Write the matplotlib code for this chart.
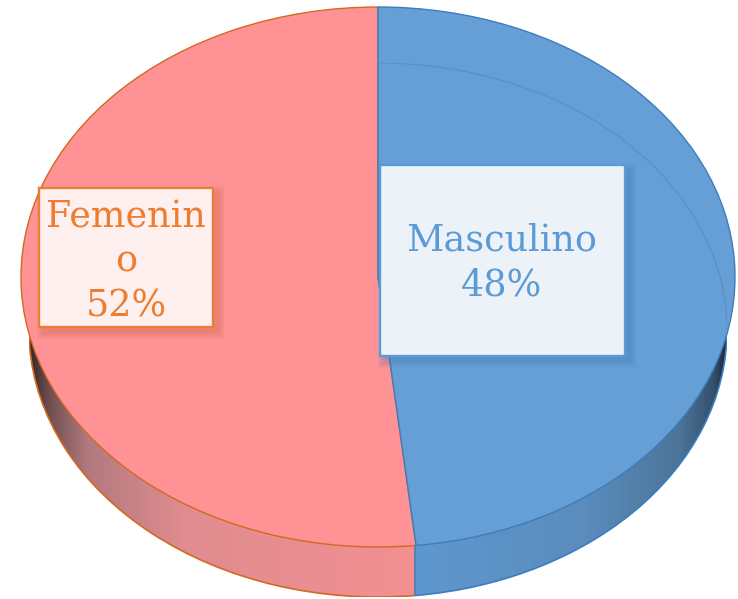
import numpy as np
import matplotlib
matplotlib.use("Agg")
import matplotlib.pyplot as plt
from matplotlib.colors import LinearSegmentedColormap
from matplotlib.patches import Rectangle, Arc, Circle

categories = ["Masculino", "Femenino"]
values = [48.3, 51.7]
label_text = ["Masculino\n48%", "Femenin\no\n52%"]

W, H = 738, 599
top_fill = ["#669FD6", "#FF9295"]
top_edge = ["#3B7DBE", "#D2691F"]
text_col = ["#5B9BD5", "#ED7D31"]
box_fill = ["#EDF2F9", "#FDF0EF"]
shadow_col = ["#3F78B0", "#C8643C"]
box_px = [(380, 165, 625, 356), (39, 188, 213, 327)]
text_px = [(502, 263), (126, 262)]

fig = plt.figure(figsize=(W / 100, H / 100), dpi=100, facecolor="white")


def pix_axes(x0, y0, x1, y1, z):
    ax = fig.add_axes([x0 / W, 1 - y1 / H, (x1 - x0) / W, (y1 - y0) / H], zorder=z)
    ax.patch.set_visible(False)
    ax.set_axis_off()
    return ax


def pie_on(ax, **kw):
    w, _ = ax.pie(values, startangle=90, counterclock=False, radius=1, **kw)
    ax.set_aspect("auto")
    ax.set_xlim(-1, 1)
    ax.set_ylim(-1, 1)
    return w


# lower disc: gives the shaded side wall, split by a vertical seam
side = pix_axes(29, 63, 727, 597, 1)
wedges = pie_on(side, colors=["none", "none"], wedgeprops=dict(linewidth=0))
blue_map = LinearSegmentedColormap.from_list("b", [(0, "#5F98D0"), (0.55, "#5A8CBC"), (0.85, "#4C7499"), (0.96, "#34506C"), (1, "#1C2833")])
pink_map = LinearSegmentedColormap.from_list("p", [(0, "#33272A"), (0.05, "#6E4E50"), (0.15, "#B27A7E"), (0.4, "#E08C90"), (1, "#F39092")])
x_grad = np.linspace(0, 1, 512)[None, :]
seam_angle = np.deg2rad(values[0] * 3.6)
split = np.sin(seam_angle)
disc = Circle((0, 0), 1, transform=side.transData, fc="none", ec="none")
side.add_patch(disc)
for cmap, ext in zip([blue_map, pink_map], [(split, 1), (-1, split)]):
    im = side.imshow(x_grad, cmap=cmap, extent=(ext[0], ext[1], -1, 1), aspect="auto", zorder=1)
    im.set_clip_path(disc)
for wedge, col, z in zip(wedges, top_edge, [3, 2]):
    side.add_patch(Arc((0, 0), 2, 2, theta1=wedge.theta1, theta2=wedge.theta2, color=col, lw=1.2, zorder=z))
side.plot([split, split], [np.cos(seam_angle), 0], color=top_edge[0], lw=1.2, zorder=3)
side.set_xlim(-1, 1)
side.set_ylim(-1, 1)

# top surface
top = pix_axes(21, 7, 735, 547, 2)
pie_on(top, colors=top_fill, wedgeprops=dict(linewidth=0))
for wedge, col, z in zip(top.patches, top_edge, [3, 2]):
    wedge.set_edgecolor(col)
    wedge.set_linewidth(1.0)
    wedge.set_zorder(z)

# faint outline of the lower disc seen through the blue surface
ghost = pix_axes(29, 63, 727, 597, 3)
ghost.set_xlim(-1, 1)
ghost.set_ylim(-1, 1)
ghost.add_patch(Arc((0, 0), 2, 2, theta1=0, theta2=90, color="#5490CC", lw=0.8))

# data label boxes
over = pix_axes(0, 0, W, H, 4)
over.set_xlim(0, W)
over.set_ylim(H, 0)
for label, bx, tx, fc, ec, tc, sc in zip(label_text, box_px, text_px, box_fill, top_edge, text_col, shadow_col):
    x0, y0, x1, y1 = bx
    for grow in range(7, 0, -1):
        over.add_patch(Rectangle((x0 + 5 - grow, y0 + 5 - grow), x1 - x0 + 2 * grow, y1 - y0 + 2 * grow,
                                 fc=sc, ec="none", alpha=0.05, zorder=1))
    over.add_patch(Rectangle((x0, y0), x1 - x0, y1 - y0, fc=fc, ec=tc, lw=1.7, zorder=2))
    over.text(tx[0], tx[1], label, color=tc, family=["DejaVu Serif"], fontsize=26.3,
              ha="center", va="center", linespacing=1.29, zorder=3)

fig.savefig("out.png", dpi=100, facecolor="white")
